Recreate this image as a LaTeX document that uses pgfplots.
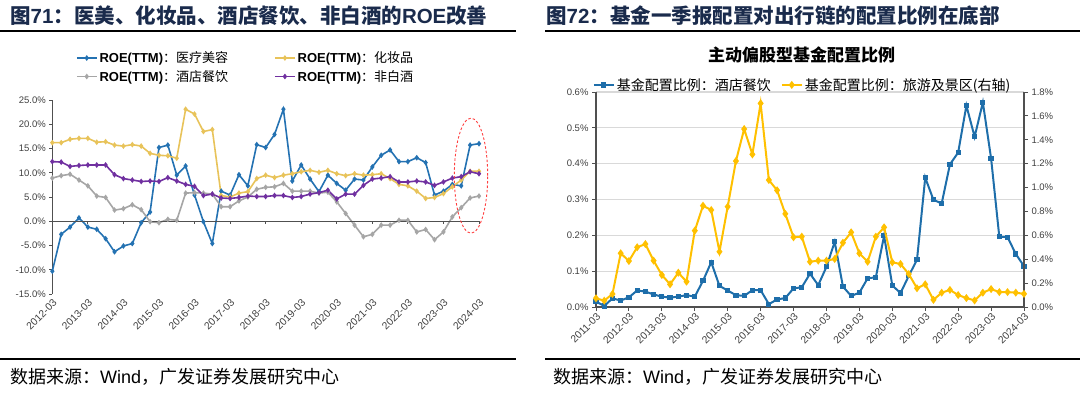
\documentclass[border=0pt]{standalone}
\usepackage{fontspec}
\usepackage{pgfplots}
\pgfplotsset{compat=1.18}
\usepackage{pgfplotstable}
\setmainfont{Liberation Sans}
\newfontfamily\cjk{Noto Sans CJK SC}
\definecolor{titlec}{RGB}{26,43,76}
\definecolor{tickc}{RGB}{64,64,64}
\definecolor{axcol}{RGB}{80,80,80}
\definecolor{lblue}{RGB}{36,114,178}
\definecolor{lyellow}{RGB}{232,195,90}
\definecolor{lgray}{RGB}{166,166,166}
\definecolor{lpurple}{RGB}{112,48,160}
\definecolor{rblue}{RGB}{30,110,170}
\definecolor{ryellow}{RGB}{255,192,0}
\definecolor{gridc}{RGB}{217,217,217}

\pgfplotstableread{
j blue yellow gray purple
0 -10.3 16.2 8.9 12.3
1 -2.7 16.2 9.4 12.2
2 -1.2 16.9 9.7 11.3
3 0.7 17.1 8.5 11.5
4 -1.2 17.1 7.3 11.6
5 -1.65 16.3 5.2 11.6
6 -3.6 16.4 4.9 11.6
7 -6.3 15.7 2.3 9.6
8 -5.1 15.5 2.6 8.8
9 -4.6 15.8 3.4 8.5
10 -0.3 15.5 2.4 8.2
11 1.9 14.0 -0.1 8.3
12 15.2 13.6 -0.3 8.2
13 15.7 13.5 0.4 9.0
14 9.5 13.0 0.2 8.3
15 11.4 23.1 5.8 7.6
16 5.4 22.1 5.9 7.2
17 -0.1 18.5 5.8 5.3
18 -4.6 18.9 5.6 5.6
19 6.2 5.3 3.0 4.8
20 5.4 5.0 3.0 4.7
21 9.6 5.8 4.2 4.9
22 7.3 6.1 5.0 5.2
23 15.8 8.8 6.6 5.1
24 15.2 9.5 7.0 5.1
25 17.9 9.0 7.1 5.3
26 23.1 9.5 7.8 5.3
27 8.3 9.8 6.2 4.9
28 11.6 10.2 6.2 5.1
29 8.7 10.5 6.2 5.6
30 6.1 10.1 5.8 5.9
31 9.5 10.5 6.0 6.4
32 7.8 9.8 4.0 4.6
33 6.4 9.4 1.6 5.6
34 8.7 9.8 -0.8 5.6
35 8.5 9.5 -3.2 7.4
36 11.2 9.6 -2.7 8.7
37 13.6 9.8 -0.8 8.9
38 14.7 8.8 -0.8 9.2
39 12.3 7.6 0.2 8.1
40 12.3 7.3 0.2 8.1
41 13.1 6.2 -2.2 8.3
42 12.1 4.7 -1.7 8.1
43 5.4 4.9 -3.8 7.4
44 6.2 5.7 -2.2 8.1
45 7.6 7.1 0.9 8.9
46 7.3 8.5 2.8 9.2
47 15.7 10.3 4.8 10.2
48 16.0 10.3 5.2 9.8
}\leftdata

\pgfplotstableread{
i hotel tour
0 0.015 0.073
1 0.003 0.053
2 0.024 0.109
3 0.018 0.45
4 0.027 0.385
5 0.046 0.50
6 0.043 0.527
7 0.035 0.388
8 0.029 0.268
9 0.026 0.19
10 0.029 0.287
11 0.033 0.212
12 0.029 0.639
13 0.073 0.848
14 0.125 0.812
15 0.059 0.463
16 0.046 0.84
17 0.033 1.222
18 0.031 1.49
19 0.047 1.278
20 0.047 1.705
21 0.008 1.063
22 0.021 0.977
23 0.025 0.78
24 0.052 0.584
25 0.055 0.589
26 0.093 0.379
27 0.061 0.388
28 0.112 0.388
29 0.182 0.402
30 0.057 0.538
31 0.031 0.625
32 0.040 0.449
33 0.080 0.379
34 0.083 0.589
35 0.199 0.667
36 0.060 0.374
37 0.039 0.36
38 0.087 0.276
39 0.132 0.157
40 0.361 0.19
41 0.299 0.06
42 0.289 0.12
43 0.398 0.143
44 0.431 0.10
45 0.562 0.075
46 0.475 0.055
47 0.571 0.12
48 0.415 0.15
49 0.196 0.125
50 0.195 0.125
51 0.148 0.12
52 0.114 0.11
}\rightdata

\pgfplotsset{
  mylegimg/.style={legend image code/.code={\draw[mark repeat=2,mark phase=2,##1] plot coordinates {(0pt,0pt) (10pt,0pt) (20pt,0pt)};}},
  ticklab/.style={font=\fontsize{9.5}{11}\selectfont, text=tickc},
  xticklab/.style={font=\fontsize{10.3}{12}\selectfont, text=tickc},
}

\begin{document}
\begin{tikzpicture}
\useasboundingbox (0pt,0pt) rectangle (1080pt,394pt);
% headers
\node[anchor=base west, inner sep=0pt, text=titlec, font=\bfseries\fontsize{20.5}{24}\selectfont] at (10pt,370pt) {{\cjk 图}71{\cjk ：医美、化妆品、酒店餐饮、非白酒的}ROE{\cjk 改善}};
\node[anchor=base west, inner sep=0pt, text=titlec, font=\bfseries\fontsize{20.5}{24}\selectfont] at (546pt,370pt) {{\cjk 图}72{\cjk ：基金一季报配置对出行链的配置比例在底部}};
\draw[line width=1.5pt] (0pt,363pt) -- (516pt,363pt);
\draw[line width=1.5pt] (545pt,363pt) -- (1080pt,363pt);
\draw[line width=1.2pt] (0pt,35pt) -- (516pt,35pt);
\draw[line width=1.2pt] (545pt,35pt) -- (1080pt,35pt);
\node[anchor=base west, inner sep=0pt, font=\fontsize{18}{20}\selectfont] at (10pt,11pt) {{\cjk 数据来源：}Wind{\cjk ，广发证券发展研究中心}};
\node[anchor=base west, inner sep=0pt, font=\fontsize{18}{20}\selectfont] at (553pt,11pt) {{\cjk 数据来源：}Wind{\cjk ，广发证券发展研究中心}};
\node[font=\cjk\bfseries\fontsize{17}{20}\selectfont] at (801.5pt,339pt) {主动偏股型基金配置比例};

% left chart
\begin{axis}[
  at={(52.3pt,100pt)}, anchor=south west,
  width=426.7pt, height=194pt, scale only axis,
  xmin=0, xmax=48, ymin=-15, ymax=25,
  axis y line*=left, axis x line*=bottom,
  x axis line style={draw=none},
  xtick={0,4,...,48},
  xticklabels={2012-03,2013-03,2014-03,2015-03,2016-03,2017-03,2018-03,2019-03,2020-03,2021-03,2022-03,2023-03,2024-03},
  xtick style={draw=none},
  x tick label style={xticklab, rotate=45, anchor=north east, inner sep=1pt},
  ytick={-15,-10,...,25},
  yticklabels={-15.0\%,-10.0\%,-5.0\%,0.0\%,5.0\%,10.0\%,15.0\%,20.0\%,25.0\%},
  y tick label style={ticklab},
  tick align=outside, major tick length=3pt,
  y axis line style={axcol, line width=0.9pt},
  ytick style={axcol, line width=0.8pt},
  clip=false,
  legend columns=2,
  legend cell align=left,
  mylegimg,
  legend style={at={(axis description cs:0.055,1.26)}, anchor=north west, draw=none, fill=none, inner sep=0pt,
    font=\fontsize{13}{15}\selectfont, row sep=2pt,
    /tikz/every even column/.append style={column sep=44pt}},
]
\addplot[lblue, line width=1.6pt, mark=diamond*, mark size=1.6pt] table[x=j,y=blue] {\leftdata};
\addlegendentry{\textbf{ROE(TTM)}{\cjk ：医疗美容}}
\addplot[lyellow, line width=1.6pt, mark=diamond*, mark size=1.6pt] table[x=j,y=yellow] {\leftdata};
\addlegendentry{\textbf{ROE(TTM)}{\cjk ：化妆品}}
\addplot[lgray, line width=1.6pt, mark=diamond*, mark size=1.6pt] table[x=j,y=gray] {\leftdata};
\addlegendentry{\textbf{ROE(TTM)}{\cjk ：酒店餐饮}}
\addplot[lpurple, line width=1.6pt, mark=diamond*, mark size=1.6pt] table[x=j,y=purple] {\leftdata};
\addlegendentry{\textbf{ROE(TTM)}{\cjk ：非白酒}}
\draw[axcol, line width=0.9pt] (axis cs:0,0) -- (axis cs:48,0);
\pgfplotsinvokeforeach{0,4,...,48}{\draw[axcol,line width=0.8pt] (axis cs:#1,0) -- ++(0pt,-3pt);}
\draw[red!75, dashed, line width=0.9pt, dash pattern=on 2.5pt off 2pt] (axis cs:47.1,9.4) ellipse [x radius=16.7pt, y radius=57.5pt];
\end{axis}

% right chart, left axis
\begin{axis}[
  at={(596pt,87pt)}, anchor=south west,
  width=428pt, height=215pt, scale only axis,
  xmin=0, xmax=52, ymin=0, ymax=0.6,
  axis y line*=left, axis x line*=bottom,
  xtick={0,4,...,52},
  xticklabels={2011-03,2012-03,2013-03,2014-03,2015-03,2016-03,2017-03,2018-03,2019-03,2020-03,2021-03,2022-03,2023-03,2024-03},
  x tick label style={xticklab, rotate=45, anchor=north east, inner sep=1pt},
  ytick={0,0.1,...,0.6},
  yticklabels={0.0\%,0.1\%,0.2\%,0.3\%,0.4\%,0.5\%,0.6\%},
  y tick label style={ticklab},
  ymajorgrids, grid style={gridc, line width=1.1pt},
  tick align=outside, major tick length=4pt,
  axis line style={axcol, line width=1.1pt},
  tick style={axcol, line width=0.9pt},
  clip=false,
  legend columns=2,
  mylegimg,
  legend style={at={(axis description cs:-0.008,1.033)}, anchor=west, draw=none, fill=none, inner sep=0pt,
    font=\cjk\fontsize{14}{16}\selectfont,
    /tikz/every even column/.append style={column sep=8pt}},
]
\addplot[rblue, line width=2pt, mark=square*, mark size=1.6pt] table[x=i,y=hotel] {\rightdata};
\addlegendentry{基金配置比例：酒店餐饮}
\addlegendimage{ryellow, line width=2pt, mark=diamond*, mark size=2.4pt}
\addlegendentry{基金配置比例：旅游及景区(右轴)}
\end{axis}

% right chart, right axis
\begin{axis}[
  at={(596pt,87pt)}, anchor=south west,
  width=428pt, height=215pt, scale only axis,
  xmin=0, xmax=52, ymin=0, ymax=1.8,
  axis y line*=right, axis x line=none,
  ytick={0,0.2,...,1.8},
  yticklabels={0.0\%,0.2\%,0.4\%,0.6\%,0.8\%,1.0\%,1.2\%,1.4\%,1.6\%,1.8\%},
  y tick label style={ticklab},
  tick align=outside, major tick length=4pt,
  axis line style={axcol, line width=1.1pt},
  tick style={axcol, line width=0.9pt},
  clip=false,
]
\addplot[ryellow, line width=2pt, mark=diamond*, mark size=2.4pt] table[x=i,y=tour] {\rightdata};
\end{axis}
\end{tikzpicture}
\end{document}
